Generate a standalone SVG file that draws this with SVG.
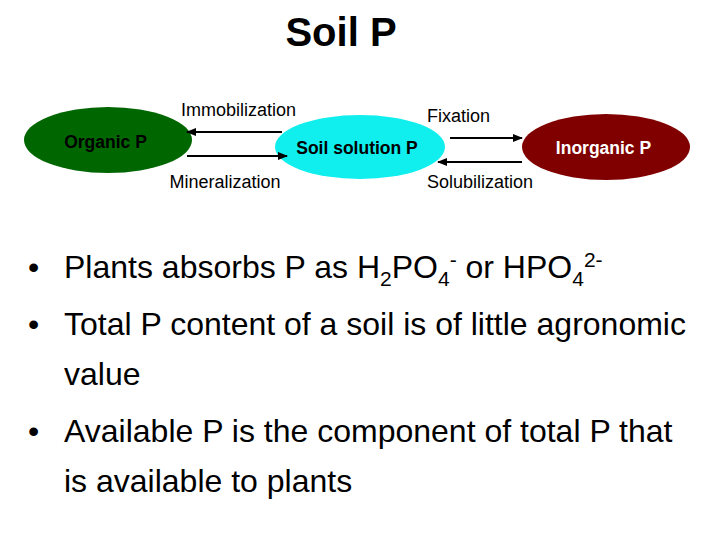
<svg xmlns="http://www.w3.org/2000/svg" width="720" height="540" viewBox="0 0 720 540">
<style>
text{font-family:"Liberation Sans",Arial,sans-serif;fill:#000}
.lbl{font-size:18px}
.node{font-size:17.5px;font-weight:bold}
.body{font-size:32px}
.sub{font-size:21px}
.conn line{stroke:#000;stroke-width:2;marker-end:url(#ah)}
</style>
<defs>
<marker id="ah" viewBox="0 0 10 10" refX="9" refY="5" markerWidth="5" markerHeight="5" orient="auto" markerUnits="strokeWidth"><path d="M0,1 L10,5 L0,9 z" fill="#000"/></marker>
</defs>
<rect width="720" height="540" fill="#fff"/>
<text x="341" y="46" text-anchor="middle" style="font-size:40px;font-weight:bold">Soil P</text>
<g id="organic"><ellipse cx="108" cy="140" rx="84" ry="33" fill="#006600"/><text class="node" x="105.5" y="148" text-anchor="middle">Organic P</text></g>
<g id="solution"><ellipse cx="360" cy="147" rx="85" ry="32" fill="#11eeee"/><text class="node" x="357" y="154" text-anchor="middle">Soil solution P</text></g>
<g id="inorganic"><ellipse cx="606" cy="147" rx="84" ry="33" fill="#800000"/><text class="node" x="603.5" y="154" text-anchor="middle" style="fill:#fff">Inorganic P</text></g>
<g class="conn">
<line x1="282" y1="132" x2="187" y2="132"/>
<line x1="187" y1="156" x2="287" y2="156"/>
<line x1="450" y1="138" x2="522" y2="138"/>
<line x1="522" y1="162" x2="438" y2="162"/>
</g>
<text class="lbl" x="238.5" y="116" text-anchor="middle">Immobilization</text>
<text class="lbl" x="225" y="188" text-anchor="middle">Mineralization</text>
<text class="lbl" x="458.5" y="122" text-anchor="middle">Fixation</text>
<text class="lbl" x="480" y="188" text-anchor="middle">Solubilization</text>
<g class="body">
<text x="28" y="278">•</text>
<text x="64" y="278">Plants absorbs P as H<tspan class="sub" dy="8">2</tspan><tspan dy="-8">PO</tspan><tspan class="sub" dy="8">4</tspan><tspan class="sub" dy="-19">-</tspan><tspan dy="11"> or HPO</tspan><tspan class="sub" dy="8">4</tspan><tspan class="sub" dy="-19">2-</tspan></text>
<text x="28" y="335">•</text>
<text x="64" y="335">Total P content of a soil is of little agronomic</text>
<text x="64" y="385">value</text>
<text x="28" y="442">•</text>
<text x="64" y="442">Available P is the component of total P that</text>
<text x="64" y="492">is available to plants</text>
</g>
</svg>
